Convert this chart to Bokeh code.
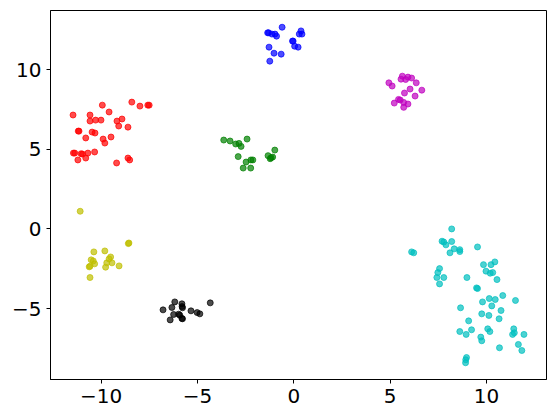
from bokeh.plotting import figure
from bokeh.models import Range1d, FixedTicker
from bokeh.embed import file_html
from bokeh.resources import INLINE

red_x = [-11.46, -10.58, -9.94, -9.59, -10.58, -10.29, -10.01, -9.18, -8.92, -9.09, -8.61, -8.41, -7.99, -7.58, -7.51,
         -11.19, -11.15, -10.47, -10.32, -10.80, -9.90, -9.81, -9.49, -11.44, -11.37, -11.04, -10.97, -10.69, -10.34,
         -10.80, -11.21, -9.20, -8.61, -8.52]
red_y = [7.15, 7.15, 7.77, 7.34, 6.77, 6.83, 6.83, 6.77, 6.90, 6.46, 6.39, 7.96, 7.71, 7.77, 7.77,
         6.14, 6.14, 6.08, 6.02, 5.71, 5.64, 5.39, 5.77, 4.76, 4.76, 4.72, 4.70, 4.76, 4.83,
         4.45, 4.33, 4.14, 4.45, 4.33]

blue_x = [-1.36, -1.31, -1.14, -0.98, -0.90, -0.61, -0.07, -0.04, 0.37, 0.42, 0.28, 0.04, 0.22, -1.29, -1.03, -0.66, -1.25]
blue_y = [12.31, 12.31, 12.23, 12.23, 12.10, 12.66, 11.79, 11.79, 12.43, 12.23, 12.23, 11.47, 11.41, 11.41, 11.03, 10.97, 10.53]

mag_x = [4.93, 5.10, 5.63, 5.56, 5.80, 5.92, 6.11, 6.35, 6.03, 5.74, 6.64, 6.29, 5.43, 5.52, 5.21, 5.70, 5.92, 5.70]
mag_y = [9.17, 8.97, 9.59, 9.40, 9.38, 9.53, 9.47, 9.17, 8.78, 8.53, 8.71, 8.34, 8.13, 8.09, 7.90, 7.94, 7.84, 7.63]

green_x = [-3.64, -3.31, -3.02, -2.85, -2.74, -2.43, -2.89, -2.48, -2.63, -2.24, -2.23, -2.13, -1.34, -1.18, -1.10, -0.99, -1.23]
green_y = [5.58, 5.52, 5.33, 5.37, 5.18, 5.64, 4.54, 4.20, 3.82, 3.82, 4.33, 4.33, 4.60, 4.47, 4.51, 4.95, 4.41]

yel_x = [-11.09, -8.59, -8.56, -10.38, -9.81, -9.51, -10.52, -10.41, -10.34, -9.71, -9.59, -9.44, -10.58, -10.62, -9.77, -9.07, -10.58]
yel_y = [1.11, -0.92, -0.88, -1.44, -1.38, -1.76, -1.94, -2.01, -2.19, -2.13, -1.88, -2.13, -2.34, -2.38, -2.40, -2.32, -3.05]

blk_x = [-6.79, -6.33, -6.18, -6.24, -5.92, -5.98, -5.78, -5.81, -5.80, -5.78, -5.34, -5.02, -4.88, -4.34, -6.42, -5.81]
blk_y = [-5.08, -4.93, -4.58, -5.37, -5.41, -5.35, -5.64, -4.70, -4.87, -4.95, -5.14, -5.25, -5.33, -4.64, -5.71, -5.62]

cyan_x = [8.19, 7.69, 7.78, 7.89, 8.19, 8.32, 8.61, 8.61, 8.10, 9.53, 6.11, 6.22, 7.56, 7.47, 7.42, 7.78, 7.56,
          9.84, 10.43, 10.23, 9.97, 10.19, 10.32, 10.54, 8.98, 9.48, 9.53, 10.84, 10.14, 10.45, 11.50, 9.79, 10.27,
          10.75, 8.65, 9.75, 10.12, 10.65, 9.07, 10.06, 10.17, 9.22, 8.61, 8.94, 9.70, 9.75, 11.41, 11.44, 11.35,
          11.94, 11.65, 11.83, 10.67, 8.96, 8.92, 8.91]
cyan_y = [0.00, -0.77, -0.82, -1.00, -0.79, -1.25, -1.30, -1.42, -1.50, -1.13, -1.44, -1.50, -2.49, -2.74, -3.05, -3.05, -3.45,
          -2.24, -2.07, -2.24, -2.65, -2.78, -2.74, -3.18, -3.05, -3.70, -3.74, -4.18, -4.37, -4.43, -4.49, -4.58, -4.83,
          -5.12, -4.95, -5.33, -5.43, -5.64, -5.77, -6.27, -6.44, -6.33, -6.44, -6.62, -6.79, -7.02, -6.27, -6.52, -6.62,
          -6.62, -7.25, -7.63, -7.46, -8.07, -8.21, -8.40]

x_ticks = [-10, -5, 0, 5, 10]
y_ticks = [-5, 0, 5, 10]
x_tick_labels = ["\u221210", "\u22125", "0", "5", "10"]
y_tick_labels = ["\u22125", "0", "5", "10"]

series = [
    (red_x, red_y, "#ff0000"),
    (blue_x, blue_y, "#0000ff"),
    (mag_x, mag_y, "#bf00bf"),
    (green_x, green_y, "#008000"),
    (yel_x, yel_y, "#bfbf00"),
    (blk_x, blk_y, "#000000"),
    (cyan_x, cyan_y, "#00bfbf"),
]

p = figure(width=552, height=415, output_backend="svg", toolbar_location=None,
           x_range=Range1d(-12.63, 13.11), y_range=Range1d(-9.45, 13.71),
           min_border_left=50, min_border_right=6, min_border_top=10, min_border_bottom=36)

for xs, ys, c in series:
    p.scatter(xs, ys, size=6, fill_color=c, line_color=c, fill_alpha=0.7, line_alpha=0.7)

p.xgrid.visible = False
p.ygrid.visible = False
p.outline_line_color = "black"
p.outline_line_alpha = 1.0
p.outline_line_width = 1

p.xaxis.ticker = FixedTicker(ticks=x_ticks)
p.yaxis.ticker = FixedTicker(ticks=y_ticks)
p.xaxis.major_label_overrides = {t: l for t, l in zip(x_ticks, x_tick_labels)}
p.yaxis.major_label_overrides = {t: l for t, l in zip(y_ticks, y_tick_labels)}

for ax in (p.xaxis, p.yaxis):
    ax.major_label_text_font = "DejaVu Sans"
    ax.major_label_text_font_size = "20px"
    ax.major_label_text_color = "black"
    ax.axis_line_color = "black"
    ax.major_tick_line_color = "black"
    ax.major_tick_out = 4
    ax.major_tick_in = 0
    ax.minor_tick_line_color = None
    ax.major_label_standoff = 5

open("out.html", "w").write(file_html(p, INLINE))
